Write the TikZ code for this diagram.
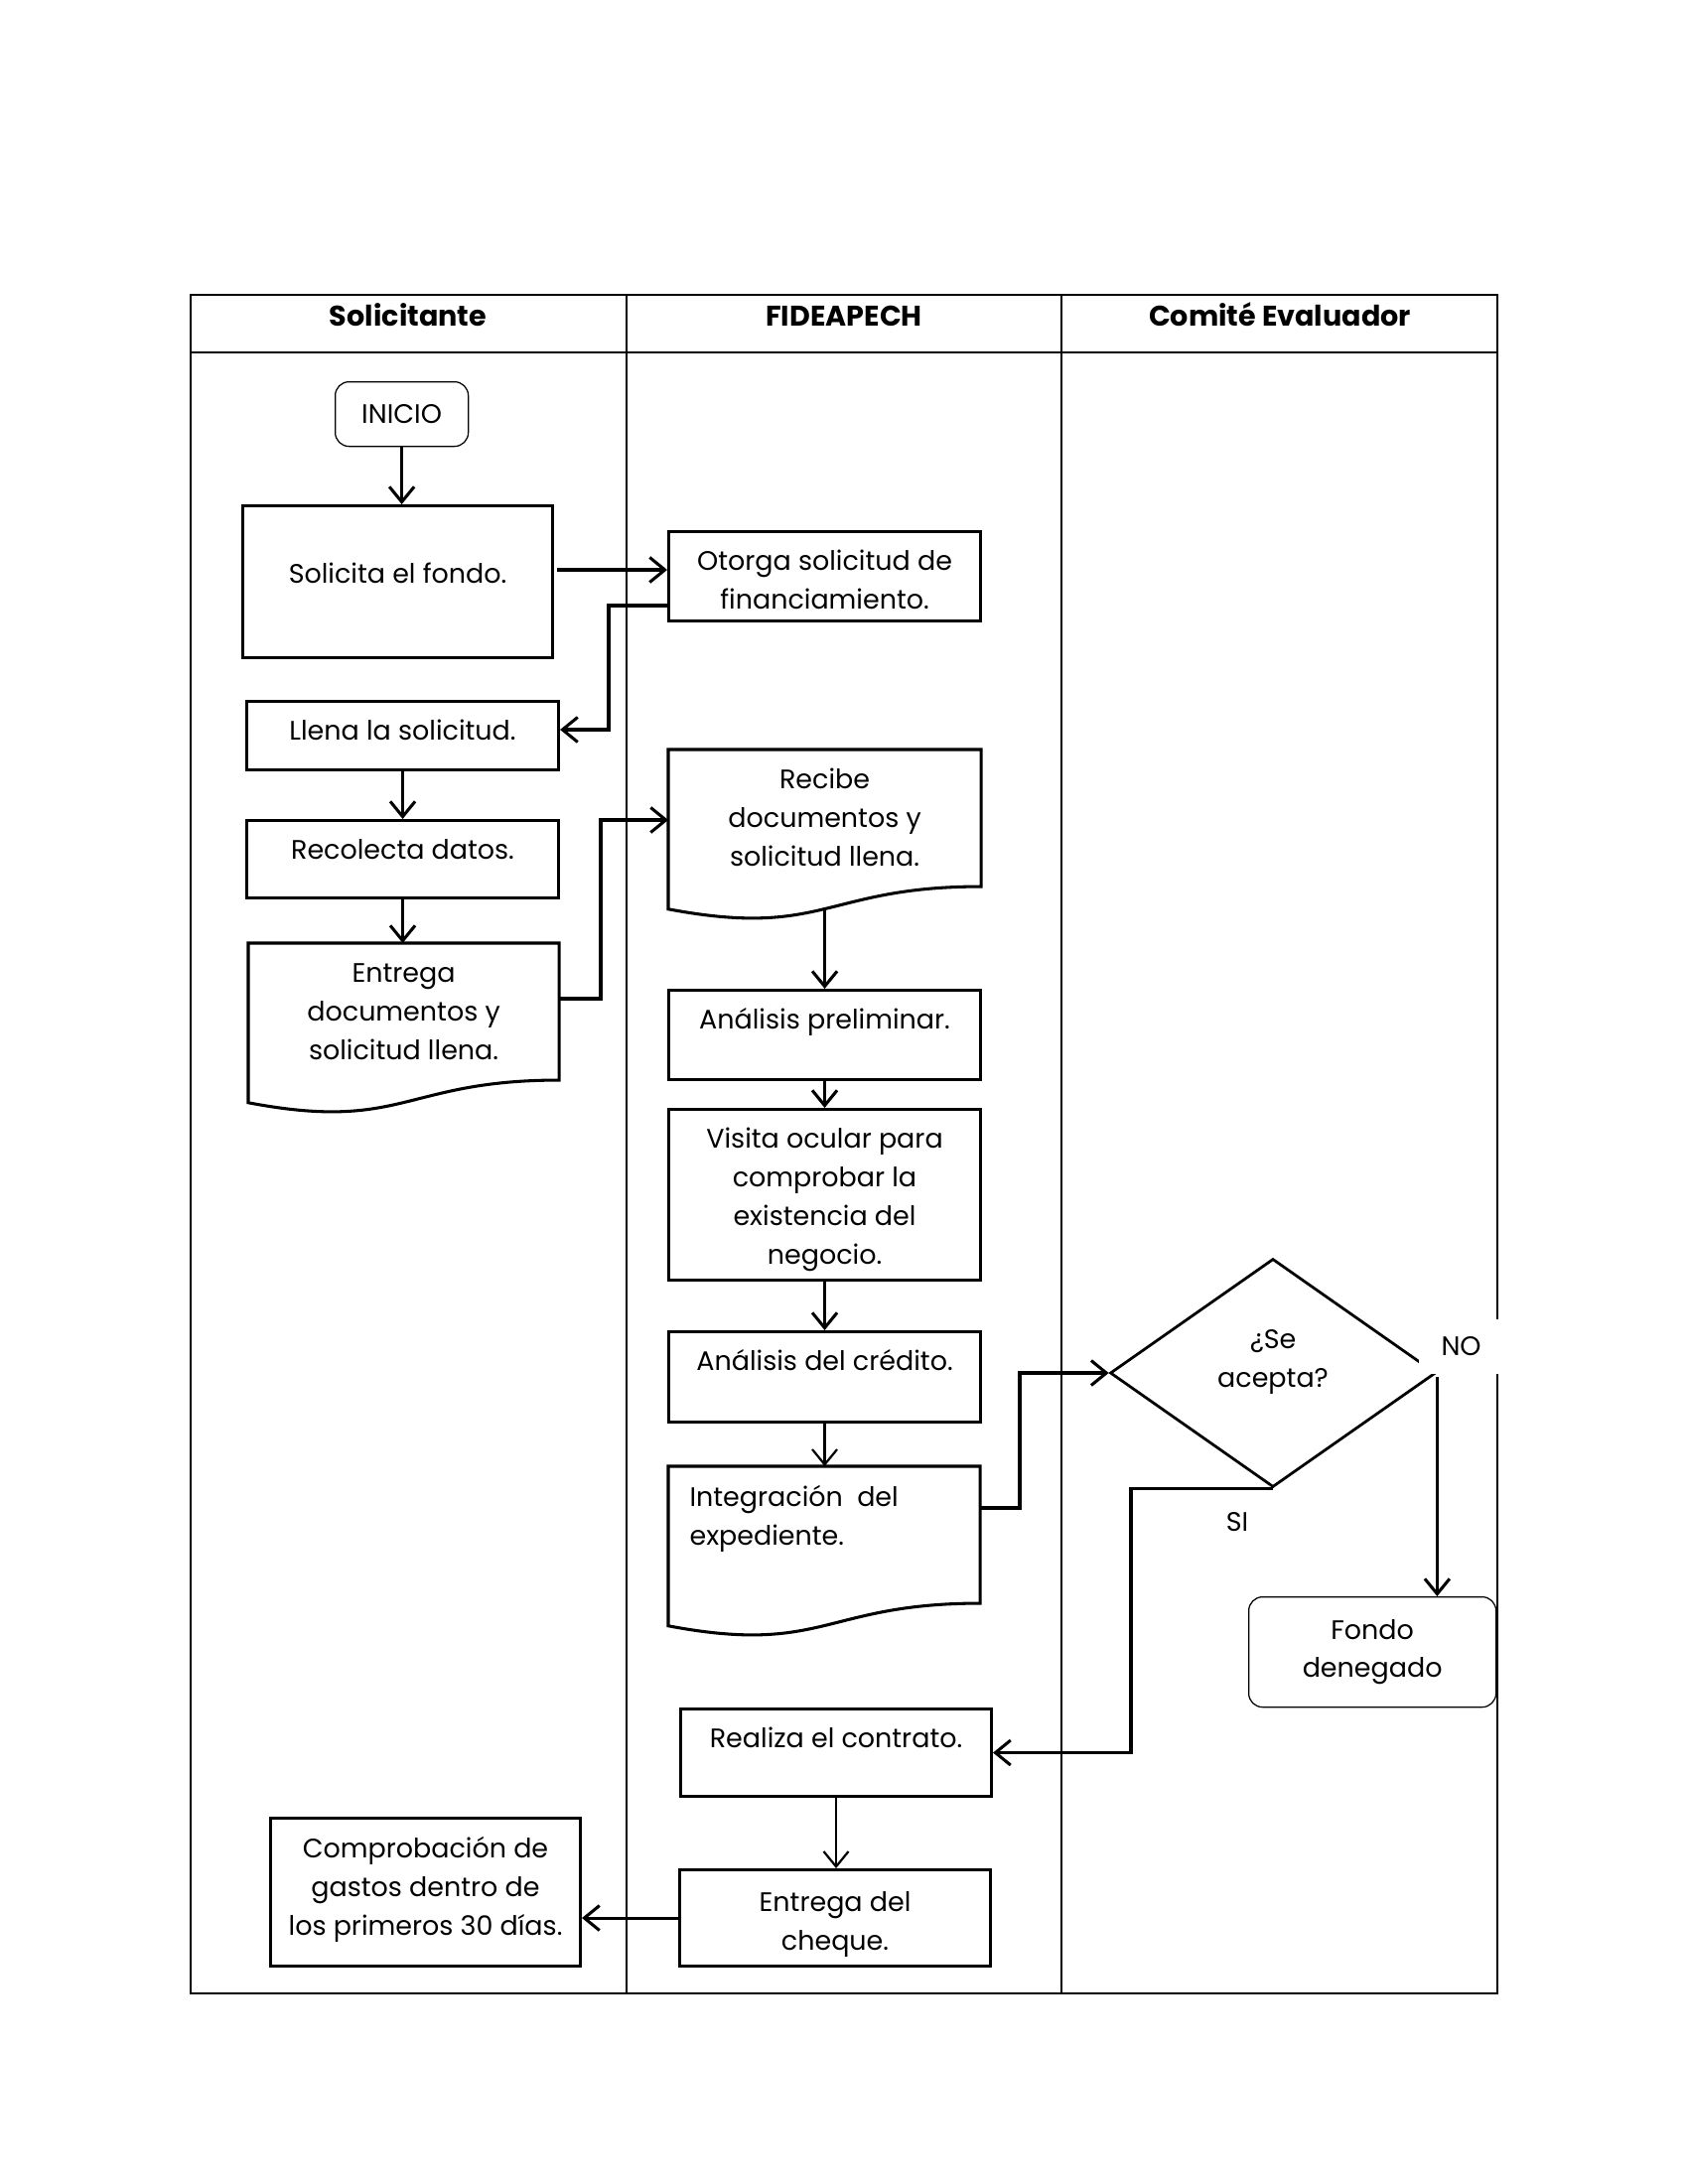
\documentclass[tikz,border=0pt]{standalone}
\usepackage{fontspec}
\setmainfont{Poppins}
\usetikzlibrary{arrows.meta,calc,shapes.geometric}
\newdimen\pxu \pxu=0.36pt
\newcommand{\bodyfont}{\fontsize{9.7}{14}\selectfont}
\newcommand{\tb}[4]{\parbox[t][#2\pxu][t]{#1\pxu}{\centering\rule{0pt}{#3\pxu}#4}}
\newcommand{\cb}[3]{\parbox[c][#2\pxu][c]{#1\pxu}{\centering #3}}
\newcommand{\docpath}[1]{%
  \draw[boxline] (#1.north west) -- (#1.north east)
    -- ($(#1.north east)!0.802!(#1.south east)$)
    .. controls ($(#1.north)!0.802!(#1.south)$) and ($(#1.north)!1.107!(#1.south)$)
    .. ($(#1.north west)!0.934!(#1.south west)$) -- cycle;
  \coordinate (#1-b) at ($(#1.north)!0.933!(#1.south)$);}
\tikzset{
  outer/.style={line width=0.9pt},
  tbl/.style={line width=0.75pt},
  boxline/.style={line width=1.1pt, line join=miter},
  pbox/.style={draw, line width=1.1pt, inner sep=0pt, anchor=north west, font=\bodyfont},
  dbox/.style={draw=none, inner sep=0pt, anchor=north west, font=\bodyfont},
  rbox/.style={draw, line width=0.45pt, rounded corners=5pt, inner sep=0pt, anchor=north west, font=\bodyfont},
  arr/.style={line width=1.1pt, -{Straight Barb[length=5.5pt,width=9pt]}},
  tarr/.style={line width=0.8pt, -{Straight Barb[length=5.5pt,width=9pt]}},
  hdr/.style={font=\fontsize{10.3}{13}\selectfont\bfseries, anchor=base, inner sep=0pt},
  lbl/.style={font=\bodyfont, inner sep=0pt},
}
\begin{document}
\begin{tikzpicture}[x=\pxu, y=-\pxu]
\useasboundingbox (0,0) rectangle (1700,2200);
% table
\draw[outer] (192,297) rectangle (1508,2008);
\draw[tbl] (192,355) -- (1508,355);
\draw[tbl] (631,297) -- (631,2008);
\draw[tbl] (1069,297) -- (1069,2008);
\node[hdr] (h1) at (411,329) {Solicitante};
\node[hdr] (h2) at (850,329) {FIDEAPECH};
\node[hdr] (h3) at (1289,329) {Comité Evaluador};
% nodes
\node[rbox] (ini) at (337,384) {\cb{134}{65}{INICIO}};
\node[pbox] (sol) at (243,508) {\tb{312}{153}{78}{Solicita el fondo.}};
\node[pbox] (oto) at (672,534) {\tb{314}{90}{39}{Otorga solicitud de\\financiamiento.}};
\node[pbox] (lle) at (247,705) {\tb{314}{69}{39}{Llena la solicitud.}};
\node[pbox] (reco) at (247,825) {\tb{314}{78}{39}{Recolecta datos.}};
\node[dbox] (ent) at (250,950) {\tb{312}{171}{39}{Entrega\\documentos y\\solicitud llena.}};
\docpath{ent}
\node[dbox] (recb) at (673,755) {\tb{314}{171}{39}{Recibe\\documentos y\\solicitud llena.}};
\docpath{recb}
\node[pbox] (ap) at (672,996) {\tb{314}{90}{39}{Análisis preliminar.}};
\node[pbox] (vis) at (672,1116) {\tb{314}{172}{39}{Visita ocular para\\comprobar la\\existencia del\\negocio.}};
\node[pbox] (ac) at (672,1340) {\tb{314}{91}{39}{Análisis del crédito.}};
\node[dbox] (int) at (673,1477) {\parbox[t][171\pxu][t]{313\pxu}{\raggedright\leftskip=21\pxu\rule{0pt}{40\pxu}Integración\ \ del\\expediente.}};
\docpath{int}
\node[pbox] (rea) at (684,1720) {\tb{313}{88}{39}{Realiza el contrato.}};
\node[pbox] (chq) at (683,1882) {\tb{313}{97}{42}{Entrega del\\cheque.}};
\node[pbox] (comp) at (271,1830) {\tb{312}{149}{40}{Comprobación de\\gastos dentro de\\los primeros 30 días.}};
\node[diamond, draw, line width=1pt, minimum width=328\pxu, minimum height=230\pxu, aspect=1.426, inner sep=0pt, font=\bodyfont] (dia) at (1282,1383)
  {\raisebox{6\pxu}[0pt][0pt]{\begin{tabular}{@{}c@{}}¿Se\\acepta?\end{tabular}}};
\node[rbox] (fon) at (1257,1608) {\cb{249}{111}{Fondo\\denegado}};
\node[fill=white, inner sep=0pt, minimum width=86\pxu, minimum height=55\pxu, anchor=north west, font=\bodyfont] (no) at (1428,1328) {NO};
\node[lbl] (si) at (1246,1533) {SI};
% coordinates for bends
\coordinate (c1) at (613,735);
\coordinate (c2) at (605,826);
\coordinate (c3) at (1027,1383);
\coordinate (c4) at (1139,0);
% connectors
\draw[arr] (ini.south) -- (ini.south |- sol.north);
\draw[arr] ([xshift=3\pxu]sol.east |- 0,574) -- (oto.west |- 0,574);
\draw[arr] (oto.west |- 0,610) -| (c1) -- (c1 -| lle.east);
\draw[arr] (lle.south) -- (reco.north);
\draw[arr] (reco.south) -- (reco.south |- ent.north);
\draw[arr] (ent.east |- 0,1006) -| (c2) -- (c2 -| recb.west);
\draw[arr] (recb-b) -- (recb-b |- ap.north);
\draw[arr] (ap.south) -- (vis.north);
\draw[arr] (vis.south) -- (ac.north);
\draw[tarr] (ac.south) -- (ac.south |- int.north);
\draw[arr] (int.east |- 0,1519) -| (c3) -- (dia.west);
\draw[arr] ([yshift=-4\pxu]dia.east) -- (dia.east |- fon.north);
\draw[arr] (dia.south) -| (c4 |- rea.east) -- (rea.east);
\draw[tarr] (rea.south) -- (rea.south |- chq.north);
\draw[arr] (chq.west) -- (chq.west -| comp.east);
\end{tikzpicture}
\end{document}
